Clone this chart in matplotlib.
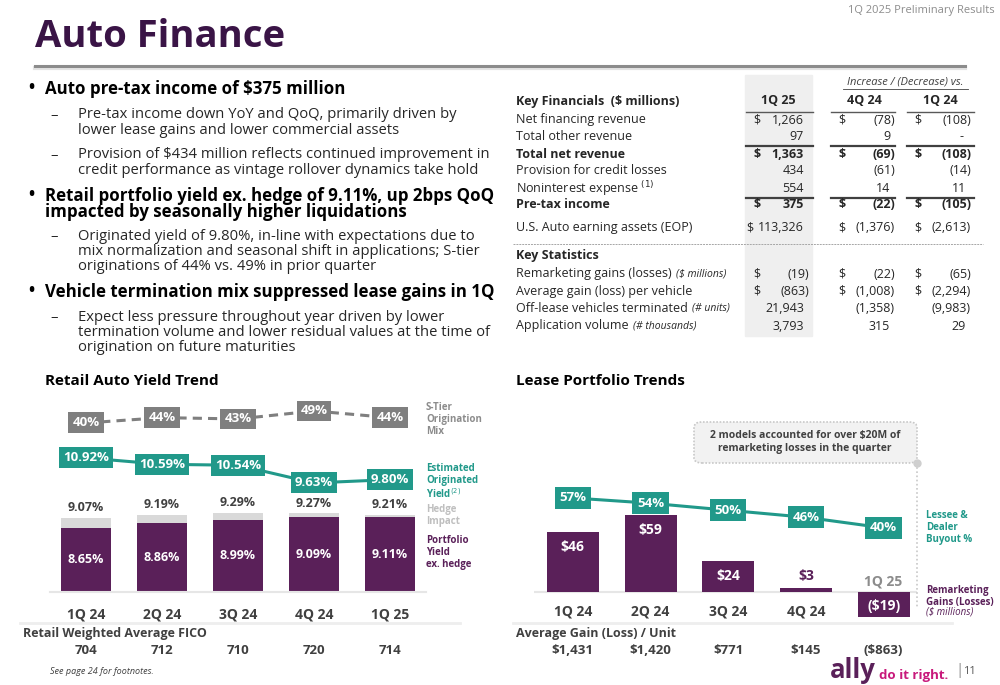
import matplotlib.pyplot as plt
from matplotlib.patches import Rectangle, FancyBboxPatch
from matplotlib.lines import Line2D
from matplotlib.transforms import blended_transform_factory

plt.rcParams['font.family'] = ['Open Sans', 'DejaVu Sans']

# -----------------------------
# Data
# -----------------------------
quarters = ["1Q 24", "2Q 24", "3Q 24", "4Q 24", "1Q 25"]

# Retail auto yield trend
yield_ex_hedge = [8.65, 8.86, 8.99, 9.09, 9.11]
yield_total = [9.07, 9.19, 9.29, 9.27, 9.21]
orig_yield = [10.92, 10.59, 10.54, 9.63, 9.80]
s_tier_mix = [40, 44, 43, 49, 44]
fico = [704, 712, 710, 720, 714]

# Lease portfolio trends
remarketing = [46, 59, 24, 3, -19]
buyout_pct = [57, 54, 50, 46, 40]
avg_gain_unit = ["$1,431", "$1,420", "$771", "$145", "($863)"]

# Key financials table
fin_labels = ["Net financing revenue", "Total other revenue", "Total net revenue",
              "Provision for credit losses", "Noninterest expense", "Pre-tax income",
              "U.S. Auto earning assets (EOP)"]
fin_q125 = ["1,266", "97", "1,363", "434", "554", "375", "113,326"]
fin_q424 = ["(78)", "9", "(69)", "(61)", "14", "(22)", "(1,376)"]
fin_q124 = ["(108)", "-", "(108)", "(14)", "11", "(105)", "(2,613)"]
fin_dollar = [True, False, True, False, False, True, True]
fin_bold = [False, False, True, False, False, True, False]

stat_labels = ["Remarketing gains (losses)", "Average gain (loss) per vehicle",
               "Off-lease vehicles terminated", "Application volume"]
stat_notes = ["($ millions)", "", "(# units)", "(# thousands)"]
stat_q125 = ["(19)", "(863)", "21,943", "3,793"]
stat_q424 = ["(22)", "(1,008)", "(1,358)", "315"]
stat_q124 = ["(65)", "(2,294)", "(9,983)", "29"]
stat_dollar = [True, True, False, False]

# colours
PURPLE = "#5a2059"
DARK_PURPLE = "#3a1446"
TEAL = "#21998a"
GRAY = "#7f7f7f"
HEDGE = "#d9d9d9"
TXT = "#262626"
TS = 9  # table font size

W, H = 1000, 685
fig = plt.figure(figsize=(10, 6.85), dpi=100)
rend = fig.canvas.get_renderer()


def T(x, y, s, **kw):
    kw.setdefault("va", "center")
    kw.setdefault("color", TXT)
    return fig.text(x / W, 1 - y / H, s, **kw)


def L(x0, x1, y0, y1, **kw):
    fig.add_artist(Line2D([x0 / W, x1 / W], [1 - y0 / H, 1 - y1 / H], **kw))


# -----------------------------
# Header
# -----------------------------
T(995, 10, "1Q 2025 Preliminary Results", ha="right", fontsize=8, color="#8c8c8c")
T(35, 37, "Auto Finance", fontsize=27.5, fontweight="bold", color=DARK_PURPLE)
L(35, 965, 68, 68, color="#e3e3e3", lw=3)
L(35, 965, 66, 66, color="#8c8c8c", lw=2.2)

# -----------------------------
# Bullets
# -----------------------------
bullets = [
    (88, ["Auto pre-tax income of $375 million"]),
    (195, ["Retail portfolio yield ex. hedge of 9.11%, up 2bps QoQ",
           "impacted by seasonally higher liquidations"]),
    (291, ["Vehicle termination mix suppressed lease gains in 1Q"]),
]
for y, lines in bullets:
    T(28, y, "•", fontsize=12, fontweight="bold", color="black")
    T(45, y - 8, "\n".join(lines), va="top", fontsize=12.2, fontweight="bold",
      color="black", linespacing=0.88)

subs = [
    (115, ["Pre-tax income down YoY and QoQ, primarily driven by",
           "lower lease gains and lower commercial assets"]),
    (155, ["Provision of $434 million reflects continued improvement in",
           "credit performance as vintage rollover dynamics take hold"]),
    (236, ["Originated yield of 9.80%, in-line with expectations due to",
           "mix normalization and seasonal shift in applications; S-tier",
           "originations of 44% vs. 49% in prior quarter"]),
    (317, ["Expect less pressure throughout year driven by lower",
           "termination volume and lower residual values at the time of",
           "origination on future maturities"]),
]
for y, lines in subs:
    T(50, y, "–", fontsize=10.6)
    for i, s in enumerate(lines):
        T(78, y + i * 15.2, s, fontsize=10.6)

# -----------------------------
# Key financials table
# -----------------------------
fig.add_artist(Rectangle((745 / W, 1 - 336 / H), 67 / W, 261 / H,
                         transform=fig.transFigure, color="#efefef", zorder=0))
T(905, 82, "Increase / (Decrease) vs.", ha="center", fontsize=8, style="italic", color="#404040")
L(843, 968, 89, 89, color="#404040", lw=0.6)
T(516, 101, "Key Financials  ($ millions)", fontsize=TS, fontweight="bold")
for cx, s in zip([778, 864, 940], ["1Q 25", "4Q 24", "1Q 24"]):
    T(cx, 101, s, ha="center", fontsize=TS, fontweight="bold")
segs = [(746, 813), (831, 895), (907, 974)]
for a, b in segs:
    L(a, b, 112, 112, color="#595959", lw=1)
    L(a, b, 146, 146, color="#404040", lw=1.6)
    L(a, b, 198, 198, color="#404040", lw=1.6)

dollar_x = [757, 842, 918]
right_x = [804, 890, 966]


def put_value(col, y, s, dollar, bold):
    fw = "bold" if bold else "normal"
    xr = right_x[col] + (5 if s.endswith(")") else 0)
    if s == "-":
        xr = right_x[col] - 2
    t = T(xr, y, s, ha="right", fontsize=TS, fontweight=fw)
    if dollar:
        left = t.get_window_extent(rend).x0
        dx = min(dollar_x[col], left - 8)
        T(dx, y, "$", ha="center", fontsize=TS, fontweight=fw)


fin_y = [120, 137, 154, 171, 189, 205, 228]
for i, y in enumerate(fin_y):
    fw = "bold" if fin_bold[i] else "normal"
    lab = fin_labels[i] + (r" $^{(1)}$" if fin_labels[i].startswith("Nonint") else "")
    T(516, y, lab, fontsize=TS, fontweight=fw)
    for c, col in enumerate([fin_q125, fin_q424, fin_q124]):
        put_value(c, y, col[i], fin_dollar[i], fin_bold[i])

L(513, 983, 244, 244, color="#a6a6a6", lw=0.7, ls=(0, (2, 1)))
T(516, 256, "Key Statistics", fontsize=TS, fontweight="bold")

stat_y = [274, 291, 308, 326]
for i, y in enumerate(stat_y):
    t = T(516, y, stat_labels[i], fontsize=TS)
    if stat_notes[i]:
        bb = t.get_window_extent(rend)
        T(bb.x1 + 4, y, stat_notes[i], fontsize=7.5, style="italic")
    for c, col in enumerate([stat_q125, stat_q424, stat_q124]):
        put_value(c, y, col[i], stat_dollar[i], False)

# -----------------------------
# Retail Auto Yield Trend
# -----------------------------
T(45, 381, "Retail Auto Yield Trend", fontsize=11, fontweight="bold", color="black")
ax = fig.add_axes([49.5 / W, 1 - 592 / H, 377 / W, 197 / H])
x = list(range(len(quarters)))
ax.bar(x, yield_total, width=0.66, color=HEDGE)
ax.bar(x, yield_ex_hedge, width=0.66, color=PURPLE)
ax.set_xlim(-0.48, 4.48)
ax.set_ylim(5.97, 14.21)
for s in ["top", "right", "left"]:
    ax.spines[s].set_visible(False)
ax.spines["bottom"].set_color("#e6e6e6")
ax.spines["bottom"].set_linewidth(1.5)
ax.set_yticks([])
ax.set_xticks(x)
ax.set_xticklabels(quarters, fontsize=10, fontweight="bold", color="#404040")
ax.tick_params(axis="x", length=0, pad=11)
for i in x:
    ax.text(i, yield_total[i] + 0.42, f"{yield_total[i]:.2f}%", ha="center", va="center",
            fontsize=9, fontweight="bold", color="#404040")
    ax.text(i, (5.97 + yield_ex_hedge[i]) / 2, f"{yield_ex_hedge[i]:.2f}%", ha="center",
            va="center", fontsize=9, fontweight="bold", color="white")

ax2 = ax.twinx()
ax2.set_ylim(4.01, 14.16)
ax2.plot(x, orig_yield, color=TEAL, lw=2.2)
for i in x:
    ax2.text(i, orig_yield[i], f"{orig_yield[i]:.2f}%", ha="center", va="center",
             fontsize=9.5, fontweight="bold", color="white",
             bbox=dict(boxstyle="square,pad=0.3", fc=TEAL, ec="none"))
ax2.axis("off")

ax3 = ax.twinx()
ax3.set_ylim(-87, 61)
ax3.plot(x, s_tier_mix, color=GRAY, lw=2.2, ls=(0, (3, 2)))
for i in x:
    ax3.text(i, s_tier_mix[i], f"{s_tier_mix[i]}%", ha="center", va="center",
             fontsize=9.5, fontweight="bold", color="white",
             bbox=dict(boxstyle="square,pad=0.3", fc=GRAY, ec="none"))
ax3.axis("off")

for yy, txt, col in [(402, "S-Tier\nOrigination\nMix", "#8c8c8c"),
                     (463, "Estimated\nOriginated\nYield$^{(2)}$", TEAL),
                     (504, "Hedge\nImpact", "#bfbfbf"),
                     (535, "Portfolio\nYield\nex. hedge", PURPLE)]:
    T(426, yy, txt, va="top", fontsize=7, fontweight="bold", color=col, linespacing=1.1)

L(20, 460, 623, 623, color="#eeeeee", lw=2)
T(23, 633, "Retail Weighted Average FICO", fontsize=9, fontweight="bold", color="#404040")
tr = blended_transform_factory(ax.transData, fig.transFigure)
for i in x:
    ax.text(i, 1 - 651 / H, str(fico[i]), transform=tr, ha="center", va="center",
            fontsize=9.5, fontweight="bold", color="#404040")
T(50, 671, "See page 24 for footnotes.", fontsize=6.5, style="italic", color="#404040")

# -----------------------------
# Lease Portfolio Trends
# -----------------------------
T(516, 381, "Lease Portfolio Trends", fontsize=11, fontweight="bold", color="black")
bx = fig.add_axes([534 / W, 1 - 625 / H, 383 / W, 230 / H])
bx.bar(x, remarketing, width=0.67, color=PURPLE)
bx.set_xlim(-0.5, 4.43)
bx.set_ylim(-25.2, 150.4)
bx.axhline(0, color="#e6e6e6", lw=1.5, zorder=0)
bx.axis("off")
for i in x:
    v = remarketing[i]
    lab = f"${v}" if v >= 0 else f"(${-v})"
    if v > 20:
        bx.text(i, v - 12, lab, ha="center", va="center", fontsize=10,
                fontweight="bold", color="white")
    elif v >= 0:
        bx.text(i, v + 9, lab, ha="center", va="center", fontsize=10,
                fontweight="bold", color=PURPLE)
    else:
        bx.text(i, v / 2 - 1, lab, ha="center", va="center", fontsize=10,
                fontweight="bold", color="white")
trx = blended_transform_factory(bx.transData, fig.transFigure)
for i in x:
    if remarketing[i] >= 0:
        bx.text(i, 1 - 611 / H, quarters[i], transform=trx, ha="center", va="center",
                fontsize=10, fontweight="bold", color="#404040")
    else:
        bx.text(i, 1 - 582 / H, quarters[i], transform=trx, ha="center", va="center",
                fontsize=10, fontweight="bold", color="#8c8c8c")

bx2 = bx.twinx()
bx2.set_ylim(-15.2, 115.5)
bx2.plot(x, buyout_pct, color=TEAL, lw=2.2)
for i in x:
    bx2.text(i, buyout_pct[i], f"{buyout_pct[i]}%", ha="center", va="center",
             fontsize=9.5, fontweight="bold", color="white",
             bbox=dict(boxstyle="square,pad=0.35", fc=TEAL, ec="none"))
bx2.axis("off")

# callout
fig.add_artist(FancyBboxPatch((694 / W, 1 - 463 / H), 223 / W, 41 / H,
                              boxstyle="round,pad=0,rounding_size=0.008",
                              transform=fig.transFigure, fc="#f2f2f2", ec="#c8c8c8",
                              lw=1.2, ls=(0, (1, 1))))
T(805, 442, "2 models accounted for over $20M of\nremarketing losses in the quarter",
  ha="center", fontsize=7.5, fontweight="bold", color="#404040", linespacing=1.25)
L(917, 917, 463, 607, color="#c8c8c8", lw=1.2, ls=(0, (1, 1.5)))
fig.add_artist(Line2D([917 / W], [1 - 463 / H], marker="o", ms=5, color="#cfcfcf"))

T(926, 510, "Lessee &\nDealer\nBuyout %", va="top", fontsize=7, fontweight="bold",
  color=TEAL, linespacing=1.1)
T(926, 585, "Remarketing\nGains (Losses)", va="top", fontsize=7, fontweight="bold",
  color=PURPLE, linespacing=1.1)
T(926, 612, "($ millions)", fontsize=7, style="italic", color=PURPLE)

L(513, 952, 623, 623, color="#eeeeee", lw=2)
T(516, 633, "Average Gain (Loss) / Unit", fontsize=9, fontweight="bold", color="#404040")
for i in x:
    bx.text(i, 1 - 651 / H, avg_gain_unit[i], transform=trx, ha="center", va="center",
            fontsize=9.5, fontweight="bold", color="#404040")

# logo / page number
T(830, 670, "ally", fontsize=18.5, fontweight="bold", color=PURPLE)
T(879, 675, "do it right.", fontsize=9.5, fontweight="bold", color="#c8197b")
T(955, 670, "|", fontsize=11, color="#8c8c8c")
T(963, 671, "11", fontsize=8, color="#595959")

fig.savefig("out.png", dpi=100)
